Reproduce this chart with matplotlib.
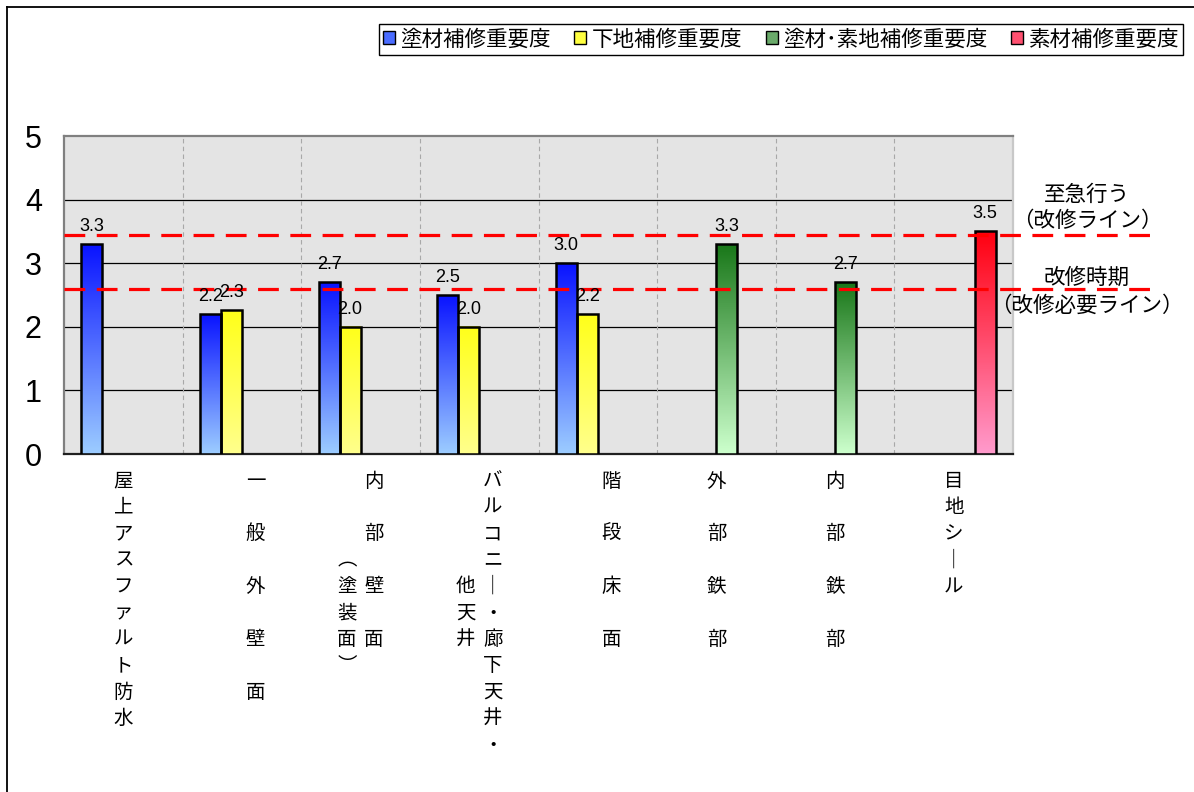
import numpy as np
import matplotlib
matplotlib.use('agg')
import matplotlib.pyplot as plt
import matplotlib.transforms as mtransforms
from matplotlib.colors import LinearSegmentedColormap
from matplotlib.patches import Patch
from matplotlib.lines import Line2D

plt.rcParams['font.family'] = ['Noto Sans CJK JP', 'DejaVu Sans']

# category labels, written as vertical columns (right column first)
label_cols = [
    ["屋上アスファルト防水"],
    ["一　般　外　壁　面", ""],
    ["内　部　壁　面", "　　　︵塗装面︶"],
    ["バルコニ｜・廊下天井・", "　　　　他天井"],
    ["階　段　床　面", ""],
    ["外　部　鉄　部"],
    ["内　部　鉄　部"],
    ["目地シ｜ル"],
]

series_names = ['塗材補修重要度', '下地補修重要度', '塗材･素地補修重要度', '素材補修重要度']
nan = np.nan
toza = [3.3, 2.2, 2.7, 2.5, 3.0, nan, nan, nan]
shitaji = [nan, 2.26, 2.0, 2.0, 2.2, nan, nan, nan]
toza_soji = [nan, nan, nan, nan, nan, 3.3, 2.7, nan]
sozai = [nan, nan, nan, nan, nan, nan, nan, 3.5]
series_vals = [toza, shitaji, toza_soji, sozai]

# gradient colours (top, bottom) per series
grad_colors = [('#0a14ff', '#9cccff'), ('#ffff1a', '#ffff8c'),
               ('#1a781a', '#ccffcc'), ('#ff0010', '#ff9acc')]
legend_colors = ['#4a6cff', '#ffff40', '#6aaa6a', '#ff5070']

threshold_vals = [3.45, 2.6]
threshold_text = [('至急行う', '（改修ライン）'), ('改修時期', '（改修必要ライン）')]

W, H = 1194, 792
fig = plt.figure(figsize=(W / 100, H / 100), dpi=100)
ax = fig.add_axes([64 / W, 1 - 454 / H, (1013 - 64) / W, (454 - 136) / H])
ax.set_facecolor('#e4e4e4')

n = len(label_cols)
x = np.arange(n)
bw = 0.177
offsets = [-1.5 * bw, -0.5 * bw, 0.5 * bw, 1.5 * bw]

for k, vals in enumerate(series_vals):
    cmap = LinearSegmentedColormap.from_list('g%d' % k, [grad_colors[k][1], grad_colors[k][0]])
    grad = np.linspace(0, 1, 100).reshape(-1, 1)
    for i, v in enumerate(vals):
        if np.isnan(v):
            continue
        x0 = x[i] + offsets[k] - bw / 2
        ax.imshow(grad, extent=[x0, x0 + bw, 0, v], origin='lower', aspect='auto',
                  cmap=cmap, zorder=3)
        ax.bar(x[i] + offsets[k], v, bw, facecolor='none', edgecolor='black',
               linewidth=1.8, zorder=4)
        ax.annotate('%.1f' % v, (x[i] + offsets[k], v), xytext=(0, 6.5),
                    textcoords='offset points', ha='center', va='bottom',
                    fontsize=13, family='Liberation Sans', zorder=6)

ax.set_xlim(-0.5, n - 0.5)
ax.set_ylim(0, 5)
ax.set_yticks(range(6))
ax.set_yticklabels([str(i) for i in range(6)], fontsize=22, family='Liberation Sans')
ax.tick_params(axis='y', length=0, pad=16)
ax.set_xticks([])

for yv in range(1, 5):
    ax.axhline(yv, color='black', lw=0.9, zorder=1)
for xv in np.arange(0.5, n - 0.5):
    ax.axvline(xv, color='#a8a8a8', lw=0.8, dashes=(4, 3), zorder=1)

for side in ['left', 'top']:
    ax.spines[side].set_color('#808080')
    ax.spines[side].set_linewidth(1.6)
ax.spines['right'].set_color('#c8c8c8')
ax.spines['right'].set_linewidth(1.6)
ax.spines['bottom'].set_color('#202020')
ax.spines['bottom'].set_linewidth(1.6)

# red threshold lines running past the plot area
x_end = (n - 0.5) + (1160 - 1013) / ((1013 - 64) / n)
for tv in threshold_vals:
    ax.plot([-0.5, x_end], [tv, tv], color='#ff0000', lw=2.3, dashes=(6.5, 3.6),
            clip_on=False, zorder=5)

for (t1, t2), yc in zip(threshold_text, [(195, 221), (278, 306)]):
    fig.text(1087 / W, 1 - yc[0] / H, t1, ha='center', va='center', fontsize=15.5)
    fig.text(1087 / W, 1 - yc[1] / H, t2, ha='center', va='center', fontsize=15.5)

# vertical category labels
trans = mtransforms.blended_transform_factory(ax.transData, fig.transFigure)
row_step = 26.4
col_step = 27
for i, cols in enumerate(label_cols):
    ncol = len(cols)
    for c, col in enumerate(cols):
        dx = ((ncol - 1) / 2 - c) * col_step
        for r, ch in enumerate(col):
            if ch == '　':
                continue
            tr = trans + mtransforms.ScaledTranslation(dx / 100, 0, fig.dpi_scale_trans)
            fig.text(x[i], 1 - (481 + r * row_step) / H, ch, transform=tr,
                     ha='center', va='center', fontsize=14)

# legend
handles = [Patch(facecolor=c, edgecolor='black', linewidth=1.0) for c in legend_colors]
leg = fig.legend(handles, series_names, loc='upper right',
                 bbox_to_anchor=(1183 / W, 1 - 24 / H), ncol=4, frameon=True,
                 fancybox=False, edgecolor='black', framealpha=1, fontsize=15.5,
                 borderpad=0.2, handlelength=0.55, handleheight=0.55,
                 handletextpad=0.25, columnspacing=1.1, borderaxespad=0)
leg.get_frame().set_linewidth(1.0)

# outer chart frame (left and top edges visible)
fig.add_artist(Line2D([7 / W, 7 / W], [0, 1 - 7 / H], color='black', lw=1.3))
fig.add_artist(Line2D([7 / W, 1], [1 - 7 / H, 1 - 7 / H], color='black', lw=1.3))

plt.savefig('out.png', dpi=100)
